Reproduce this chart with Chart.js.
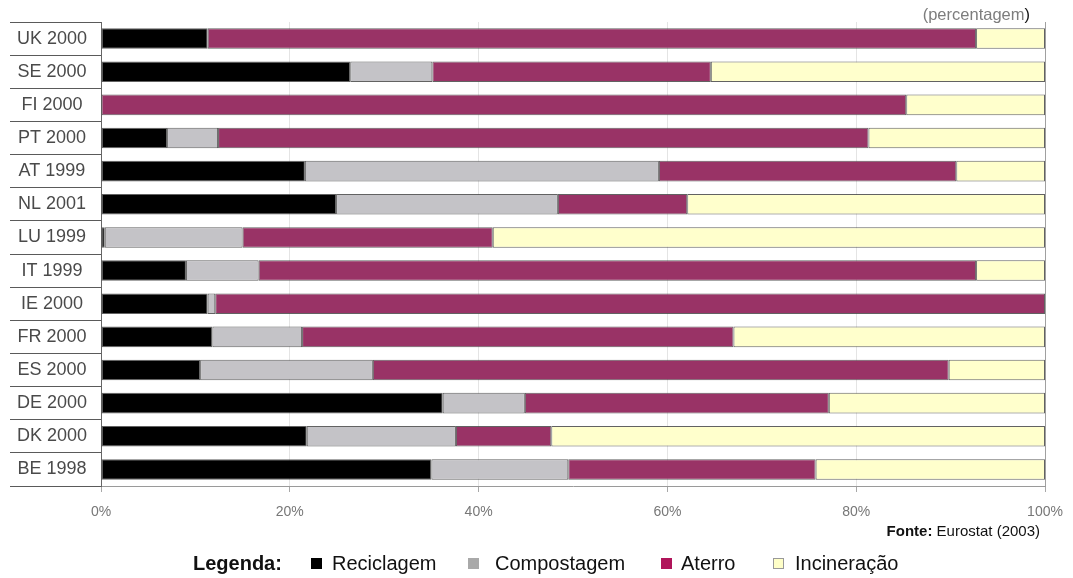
<!DOCTYPE html>
<html lang="pt">
<head>
<meta charset="utf-8">
<title>Destino dos resíduos urbanos</title>
<script src="https://cdn.jsdelivr.net/npm/chart.js@4/dist/chart.umd.min.js"></script>
<style>
  html, body { margin: 0; padding: 0; background: #fff; }
  #wrap { position: relative; width: 1073px; height: 578px; overflow: hidden;
          font-family: "Liberation Sans", Arial, Helvetica, sans-serif; }
  #chart { position: absolute; left: 0; top: 0; }
  .txt { position: absolute; white-space: nowrap; }
  #unit { right: 43px; top: 6px; font-size: 16.5px; line-height: 16px; color: #7d7d7d; }
  #unit b { font-weight: normal; color: #111; }
  #fonte { right: 33px; top: 523px; font-size: 15px; line-height: 15px; color: #111; }
  .leg { top: 553px; font-size: 20px; line-height: 20px; color: #111; }
  .sw { position: absolute; top: 558px; width: 11px; height: 11px; box-sizing: border-box; }
</style>
</head>
<body>
<div id="wrap">
  <canvas id="chart" width="1073" height="578"></canvas>
  <div class="txt" id="unit">(percentagem<b>)</b></div>
  <div class="txt" id="fonte"><b>Fonte:</b> Eurostat (2003)</div>
  <div class="txt leg" style="left:193px;font-weight:bold;">Legenda:</div>
  <div class="sw" style="left:311px;background:#000;"></div>
  <div class="txt leg" style="left:332px;">Reciclagem</div>
  <div class="sw" style="left:468px;background:#a9a9a9;"></div>
  <div class="txt leg" style="left:495px;">Compostagem</div>
  <div class="sw" style="left:661px;background:#b0145a;"></div>
  <div class="txt leg" style="left:681px;">Aterro</div>
  <div class="sw" style="left:773px;background:#ffffc8;border:1px solid #999;"></div>
  <div class="txt leg" style="left:795px;">Incineração</div>
</div>
<script>
// Destino dos resíduos urbanos por país e ano (percentagem)
const categories = ['UK 2000', 'SE 2000', 'FI 2000', 'PT 2000', 'AT 1999', 'NL 2001', 'LU 1999',
                    'IT 1999', 'IE 2000', 'FR 2000', 'ES 2000', 'DE 2000', 'DK 2000', 'BE 1998'];
const reciclagem  = [11.3, 26.4, 0.0,  7.0, 21.6, 24.9,  0.4,  9.0, 11.3, 11.8, 10.5, 36.2, 21.8, 35.0];
const compostagem = [0.0,   8.7, 0.0,  5.4, 37.5, 23.5, 14.6,  7.7,  0.8,  9.5, 18.3,  8.7, 15.8, 14.5];
const aterro      = [81.4, 29.5, 85.3, 68.9, 31.5, 13.7, 26.5, 76.0, 87.9, 45.7, 61.0, 32.2, 10.1, 26.2];
const incineracao = [7.3,  35.4, 14.7, 18.7,  9.4, 37.9, 58.5,  7.3,  0.0, 33.0, 10.2, 22.9, 52.3, 24.3];
const seriesNames = ['Reciclagem', 'Compostagem', 'Aterro', 'Incineração'];
const xTicks = [0, 20, 40, 60, 80, 100];

const FONT = '"Liberation Sans", Arial, Helvetica, sans-serif';

function barSet(label, data, color) {
  return {
    label, data,
    backgroundColor: color,
    borderColor: 'rgba(70,70,70,0.85)',
    borderWidth: 1,
    borderSkipped: false,
    categoryPercentage: 1,
    barPercentage: 0.62
  };
}

new Chart(document.getElementById('chart'), {
  type: 'bar',
  data: {
    labels: categories,
    datasets: [
      barSet(seriesNames[0], reciclagem, '#000000'),
      barSet(seriesNames[1], compostagem, '#c4c3c7'),
      barSet(seriesNames[2], aterro, '#993366'),
      barSet(seriesNames[3], incineracao, '#ffffcc')
    ]
  },
  options: {
    indexAxis: 'y',
    responsive: false,
    animation: false,
    events: [],
    layout: { padding: { left: 0, top: 22, right: 28, bottom: 0 } },
    plugins: { legend: { display: false }, tooltip: { enabled: false }, title: { display: false } },
    scales: {
      x: {
        stacked: true,
        min: 0,
        max: 100,
        afterBuildTicks: (s) => { s.ticks = xTicks.map(v => ({ value: v })); },
        afterFit: (s) => { s.height = 92; s.paddingLeft = 0; s.paddingRight = 0; },
        border: { display: true, color: '#9a9a9a', width: 1 },
        grid: {
          color: (c) => (c.tick && c.tick.value === 100) ? '#a0a0a0' : '#e4e4e4',
          lineWidth: 1,
          drawTicks: true,
          tickLength: 6,
          tickColor: '#a8a8a8'
        },
        ticks: {
          padding: 12,
          color: '#777777',
          font: { family: FONT, size: 14 },
          callback: (v) => v + '%'
        }
      },
      y: {
        stacked: true,
        afterFit: (s) => { s.width = 101; },
        border: { display: true, color: '#666666', width: 1 },
        grid: {
          offset: true,
          drawOnChartArea: false,
          drawTicks: true,
          tickLength: 91,
          tickColor: '#5a5a5a',
          lineWidth: 1
        },
        ticks: {
          crossAlign: 'center',
          padding: -77,
          color: '#4a4a4a',
          font: { family: FONT, size: 18 }
        }
      }
    }
  }
});
</script>
</body>
</html>
